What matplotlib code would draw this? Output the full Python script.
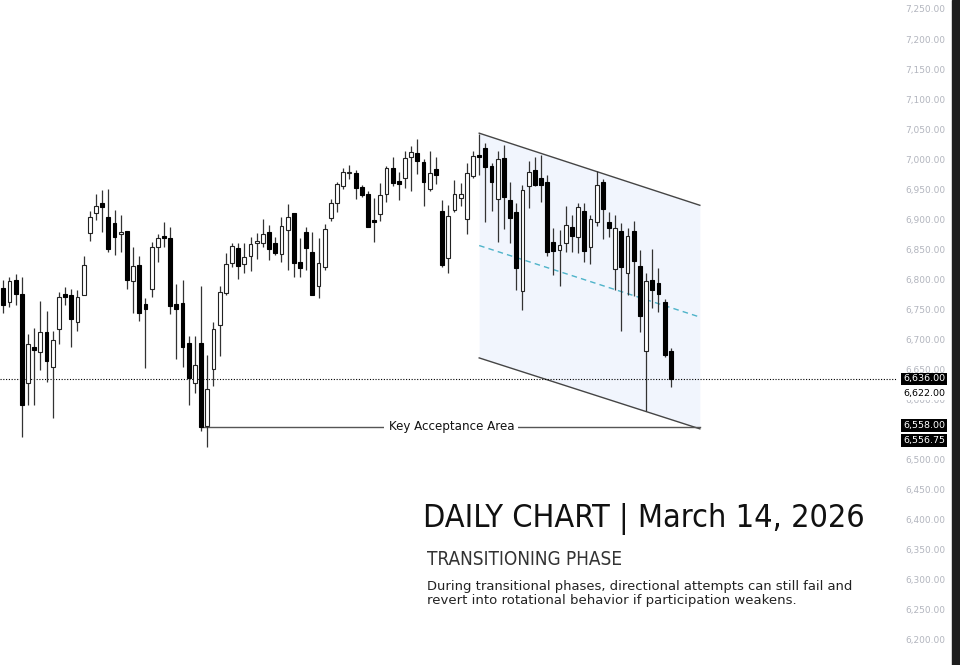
import matplotlib
matplotlib.use("Agg")
import matplotlib.pyplot as plt
from matplotlib import transforms
from matplotlib.patches import Rectangle
import numpy as np

# daily OHLC (oldest -> newest)
opens = [6788, 6764, 6801, 6777, 6629, 6689, 6681, 6714, 6656, 6719,
         6777, 6775, 6731, 6775, 6879, 6912, 6928, 6905, 6896, 6877,
         6882, 6799, 6826, 6761, 6785, 6855, 6874, 6871, 6761, 6763,
         6695, 6629, 6696, 6558, 6652, 6725, 6779, 6829, 6854, 6827,
         6841, 6863, 6863, 6881, 6863, 6844, 6884, 6912, 6830, 6881,
         6848, 6790, 6823, 6904, 6929, 6957, 6978, 6978, 6955, 6944,
         6901, 6910, 6944, 6987, 6966, 6970, 7006, 7012, 6997, 6952,
         6985, 6916, 6837, 6917, 6937, 6902, 6974, 7009, 7021, 6990,
         6935, 7003, 6933, 6913, 6783, 6957, 6984, 6970, 6963, 6864,
         6851, 6862, 6889, 6872, 6916, 6855, 6898, 6963, 6898, 6819,
         6882, 6812, 6882, 6824, 6683, 6800, 6795, 6764, 6683]
highs = [6801, 6806, 6811, 6806, 6711, 6721, 6766, 6749, 6715, 6781,
         6789, 6786, 6784, 6840, 6915, 6943, 6950, 6952, 6917, 6908,
         6882, 6856, 6841, 6771, 6864, 6878, 6898, 6889, 6794, 6800,
         6708, 6708, 6790, 6676, 6730, 6791, 6845, 6863, 6863, 6862,
         6872, 6879, 6903, 6892, 6872, 6906, 6927, 6912, 6871, 6889,
         6881, 6870, 6894, 6935, 6963, 6987, 6992, 6984, 6959, 6949,
         6937, 6962, 6990, 7005, 6981, 7016, 7024, 7035, 7002, 7016,
         7005, 6934, 6926, 6967, 6962, 6995, 7016, 7044, 7028, 6995,
         7016, 7025, 6964, 6929, 6959, 6999, 7005, 7009, 6975, 6887,
         6884, 6924, 6909, 6929, 6929, 6909, 6982, 6969, 6914, 6909,
         6895, 6888, 6899, 6851, 6813, 6852, 6821, 6769, 6687]
lows = [6745, 6756, 6759, 6539, 6593, 6593, 6651, 6631, 6571, 6694,
        6759, 6690, 6716, 6775, 6866, 6900, 6881, 6848, 6842, 6848,
        6785, 6746, 6733, 6655, 6772, 6830, 6856, 6744, 6670, 6656,
        6593, 6612, 6550, 6523, 6624, 6674, 6775, 6823, 6802, 6812,
        6816, 6835, 6855, 6834, 6842, 6830, 6817, 6805, 6806, 6817,
        6775, 6770, 6818, 6899, 6914, 6952, 6968, 6936, 6939, 6889,
        6864, 6899, 6930, 6957, 6934, 6953, 6949, 6977, 6923, 6948,
        6960, 6822, 6813, 6913, 6924, 6878, 6971, 6975, 6898, 6916,
        6864, 6885, 6862, 6784, 6750, 6921, 6957, 6931, 6841, 6809,
        6791, 6848, 6847, 6846, 6831, 6827, 6891, 6869, 6873, 6784,
        6716, 6776, 6774, 6714, 6582, 6754, 6747, 6672, 6622]
closes = [6759, 6799, 6777, 6593, 6694, 6685, 6714, 6666, 6701, 6772,
          6772, 6735, 6773, 6825, 6906, 6923, 6922, 6852, 6872, 6881,
          6801, 6824, 6746, 6752, 6855, 6870, 6871, 6758, 6753, 6690,
          6637, 6660, 6556, 6619, 6719, 6780, 6827, 6858, 6824, 6839,
          6860, 6864, 6877, 6853, 6846, 6890, 6905, 6829, 6821, 6854,
          6776, 6829, 6886, 6928, 6960, 6980, 6979, 6953, 6942, 6889,
          6898, 6942, 6987, 6962, 6960, 7003, 7014, 6999, 6964, 6979,
          6975, 6826, 6907, 6943, 6944, 6979, 7007, 7005, 6989, 6964,
          7002, 6939, 6904, 6820, 6950, 6981, 6959, 6959, 6848, 6849,
          6859, 6892, 6874, 6922, 6849, 6902, 6958, 6918, 6887, 6887,
          6823, 6874, 6833, 6741, 6799, 6784, 6777, 6676, 6636]

# descending channel (bar index, price)
chan_x = [77, 112.7]
chan_top = [7045, 6925]
chan_bot = [6671, 6553]
key_level = 6556.75
key_start = 32
key_label_x = 72.5
last_price = 6636.0

# 6,550 sits under the price boxes and is not shown
price_ticks = [p for p in range(6200, 7251, 50) if p != 6550]
# (price, text, boxed, shift in px)
price_labels = [(6636.0, "6,636.00", True, 0),
                (6622.0, "6,622.00", False, 6.5),
                (6558.0, "6,558.00", True, -0.5),
                (6556.75, "6,556.75", True, 14)]

title = "DAILY CHART | March 14, 2026"
subtitle = "TRANSITIONING PHASE"
body = ["During transitional phases, directional attempts can still fail and",
        "revert into rotational behavior if participation weakens."]

W, H = 960, 665
fig = plt.figure(figsize=(W / 100, H / 100), dpi=100)
fig.patch.set_facecolor("white")
ax = fig.add_axes([0, 0, 897 / W, 1])
ax.set_axis_off()
ax.set_xlim(-0.534, 144.6)
ax.set_ylim(6160, 7266.6)

# channel shading and lines
ax.fill_between(chan_x, chan_bot, chan_top, color="#f1f5fd", lw=0, zorder=0)
ax.plot(chan_x, chan_top, color="#454545", lw=1, zorder=1)
ax.plot(chan_x, chan_bot, color="#454545", lw=1, zorder=1)
mid = [(a + b) / 2 for a, b in zip(chan_top, chan_bot)]
ax.plot(chan_x, mid, color="#4eb3c9", lw=1, dashes=(4, 3), zorder=1)

# candles
o = np.array(opens, float)
h = np.array(highs, float)
l = np.array(lows, float)
c = np.array(closes, float)
idx = np.arange(len(o))
up = c >= o
ax.vlines(idx, l, h, color="#333333", lw=0.9, zorder=2)
body_lo = np.minimum(o, c)
body_h = np.maximum(np.abs(c - o), 1.8)
ax.bar(idx[up], body_h[up], bottom=body_lo[up], width=0.62,
       color="white", edgecolor="#222222", lw=0.8, zorder=3)
ax.bar(idx[~up], body_h[~up], bottom=body_lo[~up], width=0.62,
       color="black", edgecolor="black", lw=0.8, zorder=3)

# last price dotted line
ax.axhline(last_price, color="black", lw=0.8, ls=(0, (1, 1.5)), zorder=1)

# key acceptance level
ax.plot([key_start, chan_x[1]], [key_level, key_level], color="#555555", lw=1, zorder=1)
ax.text(key_label_x, key_level, "Key Acceptance Area", ha="center", va="center",
        fontsize=8.6, color="#111111", zorder=4,
        bbox=dict(boxstyle="square,pad=0.35", fc="white", ec="none"))

# right price scale
tr = transforms.blended_transform_factory(fig.transFigure, ax.transData)
for p in price_ticks:
    ax.text(945 / W, p, f"{p:,.2f}", transform=tr, ha="right", va="center",
            fontsize=6.5, color="#b2b5be", clip_on=False)
for p, txt, boxed, shift in price_labels:
    fc = "black" if boxed else "white"
    col = "white" if boxed else "black"
    ax.annotate(txt, xy=(945 / W, p), xycoords=tr, xytext=(0, -shift * 0.72),
                textcoords="offset points", ha="right", va="center",
                fontsize=6.8, color=col, annotation_clip=False,
                bbox=dict(boxstyle="square,pad=0.2", fc=fc, ec="none"))

fig.patches.append(Rectangle((952 / W, 0), 8 / W, 1, transform=fig.transFigure,
                             color="#1e1e1e", zorder=5))

# text block
renderer = fig.canvas.get_renderer()


def fit_text(x0, x1, ybase, s, **kw):
    t = fig.text(x0 / W, 1 - ybase / H, s, ha="left", va="baseline", **kw)
    w = t.get_window_extent(renderer).width
    t.set_fontsize(t.get_fontsize() * (x1 - x0) / w)
    return t


fit_text(423, 865, 527, title, fontsize=26, color="#111111",
         family="DejaVu Sans", stretch="condensed")
fit_text(427, 622, 565, subtitle, fontsize=13, color="#333333",
         family="DejaVu Sans", stretch="condensed")
fit_text(427, 851, 590, body[0], fontsize=9, color="#222222")
fit_text(427, 796, 604, body[1], fontsize=9, color="#222222")

fig.savefig("out.png", dpi=100, facecolor="white")
